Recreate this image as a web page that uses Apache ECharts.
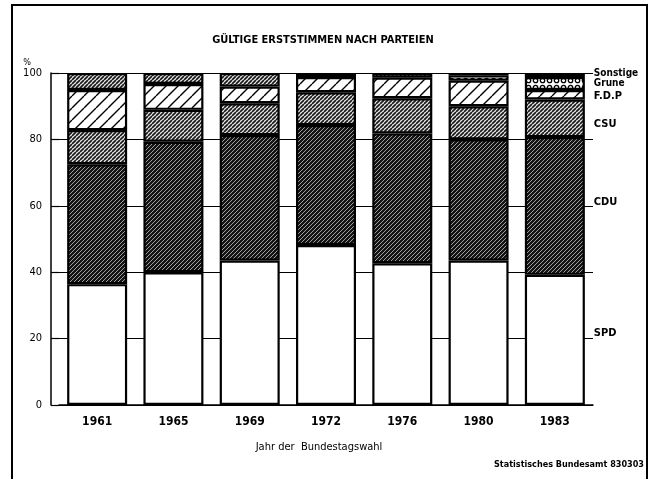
<!DOCTYPE html>
<html>
<head>
<meta charset="utf-8">
<script src="https://cdn.jsdelivr.net/npm/echarts@6/dist/echarts.min.js"></script>
<style>
html,body{margin:0;padding:0;background:#fff;}
#c{width:656px;height:479px;}
</style>
</head>
<body>
<div id="c"></div>
<script>
// ---- data ----
const years    = ['1961','1965','1969','1972','1976','1980','1983'];
const spd      = [36.4, 40.0, 43.5, 48.2, 42.7, 43.5, 39.2];
const cdu      = [36.1, 39.3, 37.8, 36.1, 39.1, 36.5, 41.5];
const csu      = [10.3,  9.6,  9.6,  9.9, 10.6, 10.0, 11.3];
const fdp      = [12.1,  7.8,  5.0,  4.6,  6.2,  7.7,  2.9];
const gruene   = [null, null, null, null, null,  1.6,  3.9];
const sonstige = [ 5.1,  3.3,  4.1,  1.2,  1.4,  0.7,  1.2];
const yTicks   = [0, 20, 40, 60, 80, 100];

const FONT = "'Liberation Sans Narrow', 'DejaVu Sans Condensed', 'Liberation Sans', sans-serif";

// ---- fill patterns ----
function hatch(size, bg, fg, lw) {
  const c = document.createElement('canvas');
  c.width = size; c.height = size;
  const g = c.getContext('2d');
  g.fillStyle = bg; g.fillRect(0, 0, size, size);
  g.strokeStyle = fg; g.lineWidth = lw;
  g.beginPath();
  for (let k = -1; k <= 1; k++) {
    g.moveTo(k * size, size); g.lineTo(k * size + size, 0);
  }
  g.stroke();
  return c;
}
function circles() {
  const c = document.createElement('canvas');
  c.width = 7; c.height = 7;
  const g = c.getContext('2d');
  g.fillStyle = '#fff'; g.fillRect(0, 0, 7, 7);
  g.strokeStyle = '#000'; g.lineWidth = 1.3;
  g.beginPath(); g.arc(3.5, 3.5, 2.2, 0, Math.PI * 2); g.stroke();
  return c;
}
const patCDU = { image: hatch(4, '#141414', '#b0b0b0', 0.9), repeat: 'repeat' };
const patCSU = { image: hatch(4, '#e8e8e8', '#1a1a1a', 1.7), repeat: 'repeat' };
const patFDP = { image: hatch(12, '#fff', '#000', 1.4), repeat: 'repeat' };
const patGRU = { image: circles(), repeat: 'repeat' };
const patSON = { image: hatch(4, '#e8e8e8', '#1a1a1a', 1.7), repeat: 'repeat' };

function mk(name, arr, fill, labelOffsetY, fontSize) {
  return {
    name: name,
    type: 'bar',
    stack: 'all',
    barWidth: 60,
    itemStyle: { color: fill, borderColor: '#000', borderWidth: 2.2 },
    emphasis: { disabled: true },
    data: arr.map((v, i) => i === arr.length - 1 ? {
      value: v,
      label: {
        show: true, position: 'right', distance: 9,
        offset: [0, labelOffsetY],
        formatter: name, color: '#000',
        fontFamily: FONT, fontWeight: 'bold', fontSize: fontSize || 11
      }
    } : v)
  };
}

const chart = echarts.init(document.getElementById('c'), null, { renderer: 'canvas' });
chart.setOption({
  animation: false,
  backgroundColor: '#fff',
  title: {
    text: 'GÜLTIGE ERSTSTIMMEN NACH PARTEIEN',
    left: 318, top: 30, textAlign: 'center',
    textStyle: { fontFamily: FONT, fontWeight: 'bold', fontSize: 11, color: '#000' }
  },
  grid: { left: 59, right: 63, top: 73, bottom: 74 },
  xAxis: {
    type: 'category',
    data: years,
    axisLine: { show: true, lineStyle: { color: '#000', width: 1.5 } },
    axisTick: { show: false },
    axisLabel: { color: '#000', fontFamily: FONT, fontWeight: 'bold', fontSize: 12, margin: 11 },
    name: 'Jahr der  Bundestagswahl',
    nameLocation: 'middle',
    nameGap: 37,
    nameTextStyle: { color: '#000', fontFamily: FONT, fontSize: 11, padding: [0, 14, 0, 0] }
  },
  yAxis: {
    type: 'value',
    min: yTicks[0], max: yTicks[yTicks.length - 1], interval: 20,
    offset: 8,
    name: '%',
    nameLocation: 'end',
    nameGap: 6,
    nameTextStyle: { color: '#000', fontFamily: FONT, fontSize: 9, align: 'right', padding: [0, 20, 0, 0] },
    axisLine: { show: true, lineStyle: { color: '#000', width: 1.5 } },
    axisTick: { show: true, inside: true, length: 8, lineStyle: { color: '#000', width: 1.2 } },
    splitLine: { show: true, lineStyle: { color: '#000', width: 1.2 } },
    axisLabel: { color: '#000', fontFamily: FONT, fontSize: 11, margin: 9,
      formatter: v => yTicks.includes(v) ? String(v) : '' }
  },
  series: [
    mk('SPD', spd, '#fff', -7),
    mk('CDU', cdu, patCDU, -4),
    mk('CSU', csu, patCSU, 6),
    mk('F.D.P', fdp, patFDP, 1),
    mk('Grune', gruene, patGRU, 0, 10),
    mk('Sonstige', sonstige, patSON, -2, 10)
  ],
  graphic: [
    { type: 'rect', shape: { x: 12, y: 5, width: 635, height: 490 },
      style: { fill: 'none', stroke: '#000', lineWidth: 2 }, silent: true },
    { type: 'text', right: 12, top: 460,
      style: { text: 'Statistisches Bundesamt 830303', fill: '#000', font: "bold 9px " + FONT } }
  ]
});
</script>
</body>
</html>
